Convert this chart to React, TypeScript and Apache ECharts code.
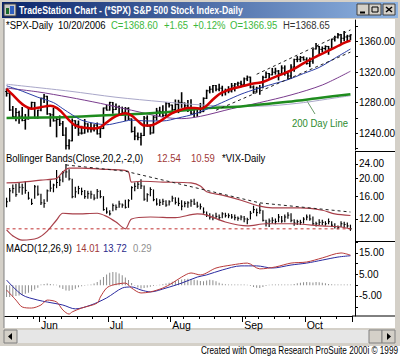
import React, { useEffect, useRef } from "react";
import * as echarts from "echarts";

// ---------- categories (trading days, 2006) ----------
const dates = [
  "5/16","5/17","5/18","5/19","5/22","5/23","5/24","5/25","5/26","5/30","5/31",
  "6/1","6/2","6/5","6/6","6/7","6/8","6/9","6/12","6/13","6/14","6/15","6/16","6/19","6/20","6/21","6/22","6/23","6/26","6/27","6/28","6/29","6/30",
  "7/3","7/5","7/6","7/7","7/10","7/11","7/12","7/13","7/14","7/17","7/18","7/19","7/20","7/21","7/24","7/25","7/26","7/27","7/28","7/31",
  "8/1","8/2","8/3","8/4","8/7","8/8","8/9","8/10","8/11","8/14","8/15","8/16","8/17","8/18","8/21","8/22","8/23","8/24","8/25","8/28","8/29","8/30","8/31",
  "9/1","9/5","9/6","9/7","9/8","9/11","9/12","9/13","9/14","9/15","9/18","9/19","9/20","9/21","9/22","9/25","9/26","9/27","9/28","9/29",
  "10/2","10/3","10/4","10/5","10/6","10/9","10/10","10/11","10/12","10/13","10/16","10/17","10/18","10/19","10/20",
];

// ---------- SPX daily OHLC ----------
const spxOpen = [
  1294.5,1292.1,1270.3,1261.8,1267.0,1262.1,1256.6,1258.6,1272.9,1280.2,1259.9,
  1270.1,1285.7,1288.2,1265.3,1263.9,1256.2,1257.9,1252.3,1237.4,1223.7,1230.0,1256.2,1251.5,1240.1,1240.1,1252.2,1245.6,1244.5,1250.6,1239.2,1246.0,1272.9,
  1270.2,1280.2,1270.9,1274.1,1265.5,1267.3,1272.4,1258.6,1242.3,1236.2,1234.5,1236.9,1259.8,1249.1,1240.3,1260.9,1268.9,1268.4,1263.2,1278.6,
  1276.7,1270.9,1277.4,1280.3,1279.4,1275.8,1271.5,1266.0,1271.8,1266.7,1268.2,1285.6,1295.4,1297.5,1302.3,1297.5,1298.8,1293.0,1296.1,1295.1,1301.8,1304.3,1305.4,
  1303.8,1311.0,1313.3,1300.3,1294.0,1298.9,1299.5,1313.0,1318.1,1316.3,1319.7,1321.2,1317.6,1325.2,1318.0,1314.8,1326.4,1336.4,1336.6,1338.9,
  1335.9,1331.3,1334.1,1350.2,1353.2,1349.6,1350.7,1353.4,1350.0,1362.8,1365.6,1369.1,1364.1,1365.8,1366.95,
];
const spxHigh = [
  1297.9,1292.1,1274.9,1272.2,1268.8,1273.7,1264.5,1273.3,1280.5,1280.2,1270.1,
  1285.7,1290.7,1288.2,1265.3,1272.5,1259.9,1262.6,1255.2,1247.1,1231.5,1258.6,1256.3,1255.9,1249.0,1257.9,1252.2,1253.1,1250.9,1253.3,1247.1,1272.9,1276.3,
  1280.4,1280.2,1278.3,1275.4,1274.1,1273.6,1273.3,1258.6,1248.0,1240.1,1239.9,1261.8,1262.6,1250.9,1262.5,1272.4,1273.9,1275.9,1280.0,1278.7,
  1276.7,1283.4,1283.0,1292.9,1279.4,1282.8,1283.8,1272.6,1271.8,1278.9,1286.2,1296.2,1300.8,1302.3,1302.3,1304.1,1301.4,1297.6,1300.8,1305.0,1305.0,1306.7,1308.0,
  1312.0,1314.7,1313.3,1301.8,1300.1,1302.4,1314.3,1319.9,1318.1,1324.7,1324.9,1322.0,1328.1,1328.0,1318.0,1329.4,1336.6,1340.1,1340.3,1339.9,
  1338.5,1338.3,1350.2,1357.4,1353.2,1352.7,1354.2,1353.4,1363.0,1366.6,1370.2,1369.1,1372.9,1368.0,1368.65,
];
const spxLow = [
  1288.5,1269.8,1261.8,1256.3,1252.9,1256.2,1245.3,1258.4,1272.5,1259.9,1259.4,
  1269.2,1280.2,1264.7,1249.0,1255.8,1235.2,1250.0,1237.1,1219.3,1219.3,1230.0,1246.3,1237.2,1238.9,1240.1,1241.4,1241.4,1243.0,1238.9,1234.5,1246.0,1270.2,
  1270.2,1265.9,1270.9,1263.1,1265.5,1256.5,1257.8,1241.4,1231.5,1231.5,1224.5,1236.9,1249.1,1238.7,1240.3,1257.2,1261.9,1261.9,1263.2,1274.3,
  1265.7,1270.7,1266.9,1273.8,1271.7,1268.4,1264.7,1261.3,1262.1,1266.7,1268.2,1285.3,1292.7,1293.6,1295.5,1295.6,1288.9,1290.0,1292.9,1293.9,1295.3,1302.2,1300.8,
  1303.8,1308.8,1299.3,1292.1,1294.0,1290.9,1299.5,1312.5,1311.6,1316.3,1317.2,1309.7,1317.6,1315.9,1310.9,1311.4,1321.0,1333.5,1333.8,1335.6,
  1330.3,1327.1,1331.5,1350.2,1344.2,1346.4,1348.6,1343.2,1350.0,1360.5,1364.5,1356.9,1360.9,1360.5,1362.1,
];
const spxClose = [
  1292.1,1270.3,1261.8,1267.0,1262.1,1256.6,1258.6,1272.9,1280.2,1259.9,1270.1,
  1285.7,1288.2,1265.3,1263.9,1256.2,1257.9,1252.3,1237.4,1223.7,1230.0,1256.2,1251.5,1240.1,1240.1,1252.2,1245.6,1244.5,1250.6,1239.2,1246.0,1272.9,1270.2,
  1280.2,1270.9,1274.1,1265.5,1267.3,1272.4,1258.6,1242.3,1236.2,1234.5,1236.9,1259.8,1249.1,1240.3,1260.9,1268.9,1268.4,1263.2,1278.6,1276.7,
  1270.9,1277.4,1280.3,1279.4,1275.8,1271.5,1266.0,1271.8,1266.7,1268.2,1285.6,1295.4,1297.5,1302.3,1297.5,1298.8,1293.0,1296.1,1295.1,1301.8,1304.3,1305.4,1303.8,
  1311.0,1313.3,1300.3,1294.0,1298.9,1299.5,1313.0,1318.1,1316.3,1319.7,1321.2,1317.6,1325.2,1318.0,1314.8,1326.4,1336.4,1336.6,1338.9,1335.9,
  1331.3,1334.1,1350.2,1353.2,1349.6,1350.7,1353.4,1350.0,1362.8,1365.6,1369.1,1364.1,1365.8,1366.95,1368.6,
];

// ---------- moving averages (bar index, value) ----------
const maRedIdx = [0,2,5,8,11,14,16,18,20,22,25,28,30,32,34,36,38,40,42,44,46,48,50,52,54,56,58,60,62,64,66,68,70,73,76,79,82,85,88,91,94,97,100,103,106,108,110];
const maRed = [1298,1290,1278,1272,1274,1276,1273,1266,1257,1250,1247,1246,1248,1254,1260,1264,1266,1263,1256,1250,1250,1253,1258,1264,1268,1271,1273,1273,1272,1276,1284,1291,1295,1299,1302,1305,1307,1312,1317,1322,1329,1336,1342,1348,1354,1358,1361];
const maBlueIdx = [0,5,10,15,18,21,24,28,32,36,40,45,50,55,60,65,70,75,80,85,90,95,100,105,110];
const maBlue = [1302,1295,1287,1280,1272,1264,1257,1253,1251,1254,1257,1256,1256,1260,1265,1273,1282,1291,1298,1304,1310,1318,1326,1338,1350];
const maPurpleIdx = [0,10,20,30,40,50,56,62,72,81,91,101,110];
const maPurple = [1299,1294,1287,1279,1270,1261,1259,1262,1272,1280,1290,1303,1321];
const maGrayIdx = [0,20,35,50,62,75,85,95,105,110];
const maGray = [1304,1295,1287,1281,1277,1275,1276,1280,1286,1289];
const maGreenIdx = [0,20,35,50,62,75,90,100,110];
const maGreen = [1260,1261,1264,1267,1272,1275,1281,1286,1291];
const chanUpperIdx = [80,110];
const chanUpper = [1317,1375];
const chanLowerIdx = [67,110];
const chanLower = [1270,1346];

// ---------- VIX daily H/L/C ----------
const vixHigh = [
  15.6,17.6,18.4,18.6,18.9,18.6,19.2,16.8,15.4,18.3,18.2,
  16.4,15.3,17.3,19.4,18.6,22.1,20.4,21.8,23.8,22.3,19.8,17.9,18.1,17.7,17.2,17.0,17.0,16.3,17.4,17.1,15.9,13.8,
  13.3,14.5,14.3,15.0,14.5,15.2,15.3,18.0,18.9,19.0,19.7,18.2,16.5,17.8,17.3,15.5,15.3,15.4,15.1,15.1,
  16.0,15.7,15.6,15.1,14.9,14.9,15.3,15.4,14.8,14.5,13.8,13.1,12.8,12.6,12.9,12.6,13.0,12.9,12.8,12.7,12.6,12.3,12.5,
  12.4,12.1,13.2,14.1,13.6,14.5,13.3,11.8,12.0,12.2,12.0,12.7,12.4,12.6,13.0,12.8,11.9,11.8,11.8,12.2,
  12.6,12.6,12.3,11.5,11.9,11.8,11.6,12.0,11.6,11.3,11.0,11.6,11.5,11.4,11.1,
];
const vixLow = [
  14.0,15.0,16.7,16.0,16.8,16.4,16.6,15.4,14.4,15.6,16.2,
  14.4,13.9,15.0,17.0,16.9,17.8,18.3,19.2,20.3,19.6,15.7,15.8,16.5,16.3,15.6,15.6,15.6,15.3,15.6,15.7,13.4,12.9,
  12.6,13.3,13.5,13.9,13.9,13.8,13.9,15.4,17.1,17.6,17.6,15.2,15.0,16.1,15.1,14.3,14.2,14.4,14.1,14.3,
  15.0,14.5,14.2,13.5,14.0,13.9,14.1,14.4,13.9,13.6,12.9,12.4,12.0,11.9,12.2,11.9,12.2,12.3,12.2,12.1,11.9,11.8,11.9,
  11.6,11.3,12.0,13.0,12.5,12.9,11.7,11.0,10.9,11.4,11.3,11.6,11.5,11.6,12.1,11.6,11.1,11.2,11.2,11.4,
  11.9,11.8,11.2,11.0,11.2,11.2,11.1,11.3,10.9,10.7,10.6,10.9,10.8,10.8,10.4,
];
const vixClose = [
  14.9,17.1,17.6,16.3,17.9,17.8,17.2,15.6,14.6,18.0,16.4,
  14.7,14.6,17.1,17.7,18.4,19.0,19.6,21.5,21.7,19.9,15.9,16.9,17.6,17.0,15.9,16.5,16.4,15.6,17.0,15.9,13.5,13.1,
  12.8,14.2,13.9,14.5,14.3,13.9,15.1,17.8,18.1,18.6,18.2,15.4,16.3,17.4,15.3,14.5,14.8,15.0,14.3,14.9,
  15.6,14.8,14.6,14.1,14.6,14.7,15.0,14.5,14.1,14.0,13.1,12.6,12.3,12.2,12.4,12.2,12.8,12.5,12.5,12.3,12.2,12.1,12.3,
  12.0,11.9,12.9,13.5,13.0,13.4,11.8,11.4,11.7,11.8,11.6,12.3,11.7,12.3,12.6,11.8,11.4,11.6,11.5,11.98,
  12.3,12.0,11.3,11.3,11.5,11.5,11.3,11.6,11.1,10.9,10.8,11.3,11.2,11.0,10.6,
];
const bbUpperIdx = [0,5,11,16,18,20,24,30,37,39,40,43,50,59,62,64,69,75,81,85,94,101,105,110];
const bbUpper = [18.9,19.1,19.6,20.0,21.7,22.8,22.8,22.5,22.2,21.7,19.1,19.3,19.1,18.9,18.2,16.9,16.2,15.2,14.1,13.8,13.8,13.4,12.8,12.54];
const bbLowerIdx = [0,2,5,10,13,16,18,22,29,32,35,38,40,46,54,61,64,70,77,83,91,101,107,110];
const bbLower = [10.45,9.7,9.2,9.45,10.3,11.85,12.9,12.8,12.9,12.4,11.55,10.6,12.0,12.3,12.2,12.8,12.6,11.55,11.0,11.3,11.3,11.0,10.85,10.59];
const vixTrendIdx = [19,38,81,110];
const vixTrend = [23.7,21.9,14.7,13.1];
const vixFloorIdx = [0,110];
const vixFloor = [10.6,10.6];

// ---------- MACD(12,26,9) ----------
const macdIdx = [0,3,5,8,11,13,16,18,20,21,24,29,30,32,34,38,40,43,46,50,53,56,59,62,67,72,77,81,86,91,96,101,107,110];
const macdLine = [-2.2,-6.9,-10.1,-10.6,-9.2,-6.9,-7.8,-11.5,-13.4,-12.4,-10.6,-8.3,-5.5,-1.3,0.1,1.0,-1.3,-3.6,-3.1,-1.3,1.0,3.8,5.7,4.8,8.0,9.4,10.3,7.6,8.5,10.3,10.8,12.7,15.0,14.01];
const signalIdx = [0,5,10,13,18,22,27,32,37,40,43,46,51,56,61,64,69,75,80,85,91,96,101,106,110];
const signalLine = [2.4,-4.5,-6.9,-7.8,-9.2,-11.0,-9.2,-5.9,-1.3,-0.8,-2.2,-3.1,-1.3,1.0,3.8,4.8,7.1,9.0,9.0,8.0,9.4,10.3,11.7,13.1,13.72];
const macdHist = [
  -5.5,-5.5,-5.2,-5.0,-4.8,-4.5,-4.0,-3.5,-2.8,-2.0,-1.2,
  0.3,0.6,0.8,0.6,0.3,0.2,-1.0,-1.8,-2.5,-2.6,-2.2,-1.6,
  -0.9,-0.5,-0.2,0.2,0.4,0.8,1.5,2.6,3.8,5.0,
  5.8,6.2,6.0,5.4,4.6,3.6,2.4,1.0,-0.2,-1.0,-1.5,-1.3,
  -1.0,-0.7,-0.4,-0.1,0.2,0.5,0.8,1.2,1.6,2.0,2.4,
  2.7,2.9,3.0,2.9,2.6,2.3,2.0,1.8,2.2,2.6,2.3,
  1.8,1.2,0.7,0.5,0.4,0.4,0.4,0.4,0.4,0.3,0.2,
  -0.3,-0.8,-1.2,-1.3,-0.8,-0.3,0.2,0.3,0.3,0.3,0.3,
  0.3,0.3,0.4,0.6,0.9,1.2,1.4,1.5,1.4,1.3,1.5,
  1.4,1.2,0.9,0.6,0.5,0.4,0.4,0.4,0.3,0.3,0.29,
];

// ---------- axis ticks ----------
const priceTicks = [1220,1240,1260,1280,1300,1320,1340,1360,1380];
const priceLabels = [1240,1280,1320,1360];
const vixLabels = [12,16,20,24];
const macdTicks = [-10,-5,0,5,10,15,20];
const macdLabels = [-5,5,15];
const monthNames = ["Jan","Feb","Mar","Apr","May","Jun","Jul","Aug","Sep","Oct","Nov","Dec"];

const FONT = "'Liberation Sans', Arial, sans-serif";

export default function App() {
  const ref = useRef<HTMLDivElement>(null);
  useEffect(() => {
    const chart = echarts.init(ref.current!, null, { renderer: "svg" });
    const dObj = dates.map((s) => {
      const [m, d] = s.split("/").map(Number);
      return new Date(2006, m - 1, d);
    });
    const weekStart = (i: number) => i > 0 && dObj[i].getDay() <= dObj[i - 1].getDay();
    const monthStart = (i: number) => i > 0 && dObj[i].getMonth() !== dObj[i - 1].getMonth();
    const pairs = (idx: number[], v: number[], f?: (x: number) => number) =>
      idx.map((x, k) => [x, f ? f(v[k]) : v[k]]);
    const ln = (v: number) => Math.log(v);

    const ohlcRender = (lw: number, hasOpen: boolean) => (params: any, api: any) => {
      const i = api.value(0);
      const w = api.size([1, 0])[0];
      const hw = Math.max(1, w * 0.45);
      const st = { stroke: "#000", lineWidth: lw };
      const h = api.coord([i, api.value(hasOpen ? 2 : 1)]);
      const l = api.coord([i, api.value(hasOpen ? 3 : 2)]);
      const c = api.coord([i, api.value(hasOpen ? 4 : 3)]);
      const ch: any[] = [
        { type: "line", shape: { x1: h[0], y1: h[1] - 0.5, x2: l[0], y2: l[1] + 0.5 }, style: st },
        { type: "line", shape: { x1: c[0], y1: c[1], x2: c[0] + hw, y2: c[1] }, style: { stroke: "#000", lineWidth: 1 } },
      ];
      if (hasOpen) {
        const o = api.coord([i, api.value(1)]);
        ch.push({ type: "line", shape: { x1: o[0] - hw, y1: o[1], x2: o[0], y2: o[1] }, style: { stroke: "#000", lineWidth: 1 } });
      }
      return { type: "group", children: ch };
    };

    const line = (data: any[], color: string, width: number, xi: number, extra: any = {}) => ({
      type: "line",
      xAxisIndex: xi,
      yAxisIndex: xi,
      data,
      showSymbol: false,
      symbol: "none",
      smooth: 0.3,
      lineStyle: { color, width },
      silent: true,
      ...extra,
    });

    const valAxis = (gi: number, min: number, max: number, ticks: number[], labels: number[], fmt: (v: number) => string) => ({
      type: "value",
      gridIndex: gi,
      position: "right",
      offset: 3,
      min,
      max,
      splitLine: { show: false },
      axisLine: { show: true, lineStyle: { color: "#000", width: 1 } },
      axisTick: { show: true, inside: false, length: 3, customValues: ticks, lineStyle: { color: "#000" } },
      axisLabel: { customValues: labels, formatter: fmt, margin: 4, fontSize: 10, fontFamily: FONT, color: "#000" },
    });

    const SX = 0.865;
    const txt = (x: number, y: number, text: string, fill: string, extra: any = {}) => ({
      type: "text",
      x,
      y,
      scaleX: SX,
      silent: true,
      style: { text, fill, font: `11px ${FONT}`, textVerticalAlign: "middle", ...extra },
    });

    const option: any = {
      animation: false,
      backgroundColor: "#ffffff",
      grid: [
        { left: 5, right: 48, top: 20, height: 130 },
        { left: 5, right: 48, top: 152, height: 90 },
        { left: 5, right: 48, top: 242, height: 74 },
      ],
      xAxis: [
        { type: "category", gridIndex: 0, data: dates, show: false },
        { type: "category", gridIndex: 1, data: dates, show: false },
        {
          type: "category",
          gridIndex: 2,
          position: "bottom",
          data: dates,
          axisLine: { show: true, onZero: false, lineStyle: { color: "#000" } },
          axisTick: { show: true, interval: (i: number) => weekStart(i), length: 3, lineStyle: { color: "#000" } },
          axisLabel: { show: false },
        },
        {
          type: "category",
          gridIndex: 2,
          position: "bottom",
          offset: 0,
          data: dates,
          axisLine: { show: false, onZero: false },
          axisTick: { show: true, interval: (i: number) => monthStart(i), length: 6, lineStyle: { color: "#000" } },
          axisLabel: {
            interval: (i: number) => monthStart(i),
            formatter: (v: string) => monthNames[Number(v.split("/")[0]) - 1],
            align: "left",
            margin: 3,
            fontSize: 10.5,
            fontFamily: FONT,
            color: "#000",
          },
        },
      ],
      yAxis: [
        valAxis(0, 1218, 1388, priceTicks, priceLabels, (v) => v.toFixed(2)),
        valAxis(1, Math.log(8.98), Math.log(27.9), vixLabels.map(ln), vixLabels.map(ln), (v) => Math.exp(v).toFixed(2)),
        valAxis(2, -14.3, 20.1, macdTicks, macdLabels, (v) => v.toFixed(2)),
      ],
      series: [
        line(pairs(maGrayIdx, maGray), "#a9a7c9", 1, 0),
        line(pairs(maPurpleIdx, maPurple), "#7a3c8e", 1, 0),
        line(pairs(maGreenIdx, maGreen), "#1e8c1e", 2.5, 0),
        line(pairs(maBlueIdx, maBlue), "#2b3da6", 1, 0),
        {
          type: "custom",
          xAxisIndex: 0,
          yAxisIndex: 0,
          clip: true,
          silent: true,
          data: dates.map((_, i) => [i, spxOpen[i], spxHigh[i], spxLow[i], spxClose[i]]),
          encode: { x: 0, y: [1, 2, 3, 4] },
          renderItem: ohlcRender(1.6, true),
        },
        line(pairs(maRedIdx, maRed), "#d30000", 2.5, 0),
        line(pairs(chanUpperIdx, chanUpper), "#222", 1, 0, { smooth: false, lineStyle: { color: "#222", width: 1, type: [3, 3] } }),
        line(pairs(chanLowerIdx, chanLower), "#222", 1, 0, { smooth: false, lineStyle: { color: "#222", width: 1, type: [3, 3] } }),
        // VIX panel
        line(pairs(bbUpperIdx, bbUpper, ln), "#a8404a", 1.2, 1),
        line(pairs(bbLowerIdx, bbLower, ln), "#a8404a", 1.2, 1),
        line(pairs(vixFloorIdx, vixFloor, ln), "#c03030", 1, 1, { smooth: false, lineStyle: { color: "#c03030", width: 1, type: [3, 3] } }),
        line(pairs(vixTrendIdx, vixTrend, ln), "#222", 1, 1, { smooth: false, lineStyle: { color: "#222", width: 1, type: [3, 3] } }),
        {
          type: "custom",
          xAxisIndex: 1,
          yAxisIndex: 1,
          clip: true,
          silent: true,
          data: dates.map((_, i) => [i, ln(vixHigh[i]), ln(vixLow[i]), ln(vixClose[i])]),
          encode: { x: 0, y: [1, 2, 3] },
          renderItem: ohlcRender(1.2, false),
        },
        // MACD panel
        {
          type: "bar",
          xAxisIndex: 2,
          yAxisIndex: 2,
          data: macdHist,
          barWidth: 1,
          silent: true,
          itemStyle: { color: "#8c8c8c" },
        },
        line(pairs(signalIdx, signalLine), "#2a2aa0", 1, 2),
        line(pairs(macdIdx, macdLine), "#b83a3a", 1, 2),
      ],
      graphic: [
        // window frame
        { type: "rect", shape: { x: 0, y: 0, width: 400, height: 19 }, style: { fill: "#d4d0c8" }, silent: true },
        { type: "rect", shape: { x: 0, y: 0, width: 4, height: 346 }, style: { fill: "#d4d0c8" }, silent: true },
        { type: "rect", shape: { x: 395, y: 0, width: 5, height: 346 }, style: { fill: "#d4d0c8" }, silent: true },
        { type: "rect", shape: { x: 0, y: 328, width: 400, height: 18 }, style: { fill: "#d4d0c8" }, silent: true },
        { type: "line", shape: { x1: 4, y1: 19, x2: 4, y2: 328 }, style: { stroke: "#808080", lineWidth: 1 }, silent: true },
        // title bar
        {
          type: "rect",
          shape: { x: 2, y: 2, width: 396, height: 16 },
          silent: true,
          style: {
            fill: new echarts.graphic.LinearGradient(0, 0, 1, 0, [
              { offset: 0, color: "#0a246a" },
              { offset: 1, color: "#8fb4e2" },
            ]),
          },
        },
        { type: "rect", shape: { x: 4, y: 4, width: 12, height: 12 }, style: { fill: "#c8c8c8", stroke: "#404040", lineWidth: 1 }, silent: true },
        { type: "rect", shape: { x: 6, y: 8, width: 3, height: 6 }, style: { fill: "#1a6a2a" }, silent: true },
        { type: "rect", shape: { x: 10, y: 6, width: 4, height: 8 }, style: { fill: "#3060c0" }, silent: true },
        {
          type: "text",
          x: 19,
          y: 10,
          scaleX: 0.79,
          silent: true,
          style: { text: "TradeStation Chart - (*SPX) S&P 500 Stock Index-Daily", fill: "#fff", font: `bold 11px ${FONT}`, textVerticalAlign: "middle" },
        },
        { type: "rect", shape: { x: 357, y: 4, width: 12, height: 11 }, style: { fill: "#d4d0c8", stroke: "#404040", lineWidth: 1 }, silent: true },
        { type: "rect", shape: { x: 369, y: 4, width: 12, height: 11 }, style: { fill: "#d4d0c8", stroke: "#404040", lineWidth: 1 }, silent: true },
        { type: "rect", shape: { x: 383, y: 4, width: 12, height: 11 }, style: { fill: "#d4d0c8", stroke: "#404040", lineWidth: 1 }, silent: true },
        { type: "line", shape: { x1: 360, y1: 12.5, x2: 365, y2: 12.5 }, style: { stroke: "#000", lineWidth: 2 }, silent: true },
        { type: "rect", shape: { x: 372, y: 7, width: 6, height: 5 }, style: { fill: "none", stroke: "#000", lineWidth: 1 }, silent: true },
        { type: "line", shape: { x1: 386, y1: 7, x2: 392, y2: 12 }, style: { stroke: "#000", lineWidth: 1.5 }, silent: true },
        { type: "line", shape: { x1: 392, y1: 7, x2: 386, y2: 12 }, style: { stroke: "#000", lineWidth: 1.5 }, silent: true },
        // scrollbar
        { type: "rect", shape: { x: 4, y: 330, width: 391, height: 13 }, style: { fill: "#e6e6e6" }, silent: true },
        { type: "rect", shape: { x: 4, y: 330, width: 13, height: 13 }, style: { fill: "#d4d0c8", stroke: "#808080", lineWidth: 1 }, silent: true },
        { type: "polygon", shape: { points: [[12, 333], [12, 340], [8, 336.5]] }, style: { fill: "#000" }, silent: true },
        { type: "rect", shape: { x: 369, y: 330, width: 13, height: 13 }, style: { fill: "#d4d0c8", stroke: "#808080", lineWidth: 1 }, silent: true },
        { type: "rect", shape: { x: 382, y: 330, width: 13, height: 13 }, style: { fill: "#d4d0c8", stroke: "#808080", lineWidth: 1 }, silent: true },
        { type: "polygon", shape: { points: [[387, 333], [387, 340], [391, 336.5]] }, style: { fill: "#000" }, silent: true },
        // panel separators in axis column
        { type: "line", shape: { x1: 355, y1: 151.5, x2: 395, y2: 151.5 }, style: { stroke: "#000", lineWidth: 1 }, silent: true },
        { type: "line", shape: { x1: 355, y1: 241.5, x2: 395, y2: 241.5 }, style: { stroke: "#000", lineWidth: 1 }, silent: true },
        { type: "line", shape: { x1: 352, y1: 316, x2: 395, y2: 316 }, style: { stroke: "#000", lineWidth: 1 }, silent: true },
        // legends
        txt(6, 25, "*SPX-Daily", "#000"),
        txt(58, 25, "10/20/2006", "#000"),
        txt(111, 25, "C=1368.60", "#3cb83c"),
        txt(164, 25, "+1.65", "#3cb83c"),
        txt(193, 25, "+0.12%", "#3cb83c"),
        txt(230, 25, "O=1366.95", "#3cb83c"),
        txt(283, 25, "H=1368.65", "#333"),
        txt(6, 158, "Bollinger Bands(Close,20,2,-2,0)", "#000"),
        txt(157, 158, "12.54", "#a03838"),
        txt(191, 158, "10.59", "#a03838"),
        txt(222, 158, "*VIX-Daily", "#000"),
        txt(6, 248, "MACD(12,26,9)", "#000"),
        txt(76, 248, "14.01", "#a03838"),
        txt(103, 248, "13.72", "#2a2a8a"),
        txt(133, 248, "0.29", "#909090"),
        // annotation
        { type: "line", shape: { x1: 307, y1: 101, x2: 315, y2: 114 }, style: { stroke: "#6a9a6a", lineWidth: 1 }, silent: true },
        txt(292, 123, "200 Day Line", "#2e8b2e"),
        // footer
        {
          type: "text",
          x: 398,
          y: 351,
          scaleX: 0.82,
          silent: true,
          style: { text: "Created with Omega Research ProSuite 2000i © 1999", fill: "#000", font: `10px ${FONT}`, textAlign: "right", textVerticalAlign: "middle" },
        },
      ],
    };
    chart.setOption(option);
    return () => chart.dispose();
  }, []);
  return <div ref={ref} style={{ position: "fixed", left: 0, top: 0, width: 400, height: 358 }} />;
}
